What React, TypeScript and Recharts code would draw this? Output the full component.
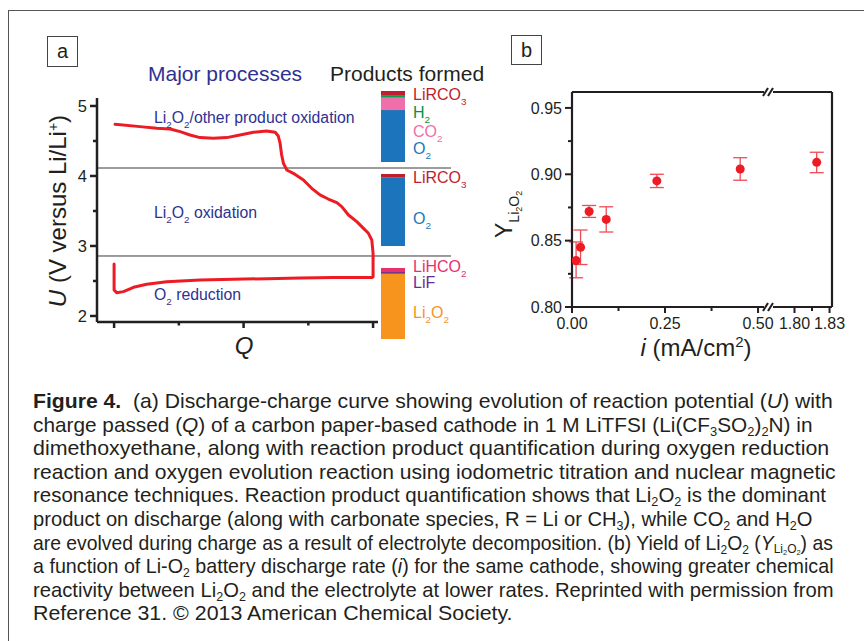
import React, { useLayoutEffect, useRef, useState } from 'react';
import {
  LineChart, Line, XAxis, YAxis, ReferenceLine,
  BarChart, Bar, ScatterChart, Scatter, ErrorBar,
} from 'recharts';

const FONT = '"Liberation Sans", Arial, Helvetica, sans-serif';
const INK = '#231f20';
const NAVY = '#2e3192';
const RED = '#ed1c24';

// ---- panel a: discharge then charge, Q scaled so that end of discharge = 1
const chargeQ = [
  0, 0, 0.01, 0.036, 0.075, 0.126, 0.203, 0.332, 0.461, 0.589, 0.718, 0.847, 0.995,
  1.0, 1.0, 0.995, 0.982, 0.963, 0.937, 0.905, 0.879, 0.86, 0.827, 0.795, 0.763,
  0.731, 0.692, 0.667, 0.654, 0.647, 0.641, 0.634, 0.622, 0.589, 0.538, 0.486,
  0.435, 0.383, 0.332, 0.293, 0.255, 0.216, 0.165, 0.1, 0.004,
];
const potential = [
  2.743, 2.371, 2.333, 2.348, 2.41, 2.453, 2.49, 2.514, 2.524, 2.533, 2.543, 2.548, 2.548,
  2.56, 2.895, 3.086, 3.181, 3.252, 3.348, 3.443, 3.562, 3.619, 3.671, 3.729, 3.824,
  3.943, 4.038, 4.086, 4.181, 4.3, 4.467, 4.571, 4.624, 4.643, 4.624, 4.586,
  4.548, 4.538, 4.548, 4.586, 4.633, 4.671, 4.681, 4.705, 4.738,
];
const potentialTicks = [2, 2.5, 3, 3.5, 4, 4.5, 5];
const potentialMajor = [2, 3, 4, 5];
const qTicks = [0, 0.25, 0.5, 0.75, 1];
const qMajor = [0, 0.5, 1];
const processBounds = [4.114, 2.857];
const Q_DOMAIN: [number, number] = [-0.066, 1.019];
const BOUND_END_Q = 1.301;

// product shares in %, listed bottom -> top
const highVoltProducts = ['O2', 'CO2', 'H2', 'LiRCO3'];
const highVoltShares = [73.1, 17.4, 3.8, 5.7];
const highVoltColors = ['#1c75bc', '#f06eaa', '#00a651', '#be1e2d'];
const midVoltProducts = ['O2', 'LiRCO3'];
const midVoltShares = [95.4, 4.6];
const midVoltColors = ['#1c75bc', '#be1e2d'];
const dischargeProducts = ['Li2O2', 'LiF', 'LiHCO2'];
const dischargeShares = [91.9, 2.4, 5.7];
const dischargeColors = ['#f7941d', '#662d91', '#e8306f'];

// ---- panel b
const currents = [0.011, 0.023, 0.046, 0.092, 0.228, 0.452, 1.819];
const yields = [0.835, 0.845, 0.872, 0.866, 0.895, 0.904, 0.909];
const yieldErrLow = [0.013, 0.013, 0.0045, 0.0095, 0.005, 0.0085, 0.0078];
const yieldErrHigh = [0.014, 0.013, 0.0045, 0.0095, 0.005, 0.0085, 0.0076];
const lowCurrentTicks = [0, 0.125, 0.25, 0.375, 0.5];
const lowCurrentMajor = [0, 0.25, 0.5];
const highCurrentTicks = [1.8, 1.815, 1.83];
const highCurrentMajor = [1.8, 1.83];
const yieldTicks = [0.8, 0.825, 0.85, 0.875, 0.9, 0.925, 0.95];
const yieldMajor = [0.8, 0.85, 0.9, 0.95];
const AXIS_BREAK = 1;

const curve = chargeQ.map((q, k) => ({ q, u: potential[k] }));
const yieldPoints = currents.map((i, k) => ({ i, y: yields[k], err: [yieldErrLow[k], yieldErrHigh[k]] }));
const lowPoints = yieldPoints.filter((p) => p.i < AXIS_BREAK);
const highPoints = yieldPoints.filter((p) => p.i >= AXIS_BREAK);

const isMajor = (list: number[], v: number) => list.some((m) => Math.abs(m - v) < 1e-9);

function makeTick(side: 'left' | 'bottom' | 'top', majors: number[], majorLen: number, minorLen: number,
  fmt?: (v: number) => string, fontSize = 16, width = 2) {
  return (props: any) => {
    const { x, y, payload } = props;
    const v = payload.value;
    const major = isMajor(majors, v);
    const len = major ? majorLen : minorLen;
    if (side === 'left') {
      return (
        <g>
          <line x1={x} y1={y} x2={x - len} y2={y} stroke={INK} strokeWidth={width} />
          {major && fmt && (
            <text x={x - len - 3} y={y} dy="0.36em" textAnchor="end" fontSize={fontSize} fill={INK}>{fmt(v)}</text>
          )}
        </g>
      );
    }
    return (
      <g>
        <line x1={x} y1={y} x2={x} y2={y + len} stroke={INK} strokeWidth={width} />
        {side === 'bottom' && major && fmt && (
          <text x={x} y={y + len + 4} dy="0.72em" textAnchor="middle" fontSize={fontSize} fill={INK}>{fmt(v)}</text>
        )}
      </g>
    );
  };
}

function chem(text: string, size: number) {
  const parts: React.ReactNode[] = [];
  const re = /([_^])(.)|([^_^]+)/g;
  let shift = 0;
  let m: RegExpExecArray | null;
  let k = 0;
  while ((m = re.exec(text))) {
    if (m[3]) {
      parts.push(<tspan key={k++} dy={-shift} fontSize={size}>{m[3]}</tspan>);
      shift = 0;
    } else {
      const off = m[1] === '_' ? 0.3 * size : -0.4 * size;
      parts.push(<tspan key={k++} dy={off - shift} fontSize={size * 0.62}>{m[2]}</tspan>);
      shift = off;
    }
  }
  return parts;
}

function ProductBar({ keys, shares, colors, left, top, height }: any) {
  const row: any = { name: 'bar' };
  keys.forEach((key: string, k: number) => { row[key] = shares[k]; });
  return (
    <div style={{ position: 'absolute', left, top }}>
      <BarChart width={24} height={height} data={[row]} margin={{ top: 0, right: 0, bottom: 0, left: 0 }}
        barCategoryGap={0} barGap={0}>
        <XAxis dataKey="name" hide />
        <YAxis hide domain={[0, 100]} allowDataOverflow />
        {keys.map((key: string, k: number) => (
          <Bar key={key} dataKey={key} stackId="p" fill={colors[k]} isAnimationActive={false} />
        ))}
      </BarChart>
    </div>
  );
}

const qTick = makeTick('bottom', qMajor, 6, 3.5, undefined, 16, 2.5);
const uTick = makeTick('left', potentialMajor, 7, 4, (v) => String(v), 16.5, 2.5);
const lowBottomTick = makeTick('bottom', lowCurrentMajor, 6, 4, (v) => v.toFixed(2));
const lowTopTick = makeTick('top', lowCurrentMajor, 5, 3);
const highBottomTick = makeTick('bottom', highCurrentMajor, 6, 4, (v) => v.toFixed(2));
const highTopTick = makeTick('top', highCurrentMajor, 5, 4);
const yieldTick = makeTick('left', yieldMajor, 7, 4, (v) => v.toFixed(2));

const axisLine = { stroke: INK, strokeWidth: 2.2 };
const sub: React.CSSProperties = { fontSize: '0.62em', verticalAlign: '-0.3em', lineHeight: 0 };
const S = ({ children }: any) => <span style={sub}>{children}</span>;

const CAPTION_LEFT = 33;
const captionLines = [
  <><b>Figure 4.</b>&nbsp; (a) Discharge-charge curve showing evolution of reaction potential (<i>U</i>) with</>,
  <>charge passed (<i>Q</i>) of a carbon paper-based cathode in 1 M LiTFSI (Li(CF<S>3</S>SO<S>2</S>)<S>2</S>N) in</>,
  <>dimethoxyethane, along with reaction product quantification during oxygen reduction</>,
  <>reaction and oxygen evolution reaction using iodometric titration and nuclear magnetic</>,
  <>resonance techniques. Reaction product quantification shows that Li<S>2</S>O<S>2</S> is the dominant</>,
  <>product on discharge (along with carbonate species, R = Li or CH<S>3</S>), while CO<S>2</S> and H<S>2</S>O</>,
  <>are evolved during charge as a result of electrolyte decomposition. (b) Yield of Li<S>2</S>O<S>2</S> (<i>Y</i><S>Li<S>2</S>O<S>2</S></S>) as</>,
  <>a function of Li-O<S>2</S> battery discharge rate (<i>i</i>) for the same cathode, showing greater chemical</>,
  <>reactivity between Li<S>2</S>O<S>2</S> and the electrolyte at lower rates. Reprinted with permission from</>,
  <>Reference 31. © 2013 American Chemical Society.</>,
];
// right edge of each caption line in the printed figure
const captionEnds = [833, 812, 829, 836, 826, 812, 833, 834, 834, 513];

function CaptionLine({ children, end }: any) {
  const ref = useRef<HTMLSpanElement>(null);
  const [scale, setScale] = useState(1);
  useLayoutEffect(() => {
    const w = ref.current ? ref.current.offsetWidth : 0;
    if (w > 0) setScale((end - CAPTION_LEFT) / w);
  }, [end]);
  return (
    <div style={{ height: 23.6 }}>
      <span ref={ref} style={{ display: 'inline-block', transform: `scaleX(${scale})`, transformOrigin: '0 0' }}>{children}</span>
    </div>
  );
}

export default function App() {
  return (
    <div style={{ position: 'absolute', left: 0, top: 0, width: 864, height: 641, background: '#fff', overflow: 'hidden', fontFamily: FONT, color: INK }}>
      <div style={{ position: 'absolute', left: 8, top: 10, width: 900, height: 700, borderTop: '1.5px solid #555', borderLeft: '1.5px solid #555' }} />

      {/* panel a */}
      <div style={{ position: 'absolute', left: 0, top: 0 }}>
        <LineChart width={470} height={360} data={curve} margin={{ top: 98, right: 92, bottom: 18, left: 57 }}>
          <XAxis dataKey="q" type="number" domain={Q_DOMAIN} allowDataOverflow ticks={qTicks} interval={0}
            height={20} tickSize={0} tickMargin={0} tickLine={false} axisLine={{ stroke: INK, strokeWidth: 2.5 }} tick={qTick} />
          <YAxis type="number" domain={[1.914, 5.114]} allowDataOverflow ticks={potentialTicks} interval={0}
            width={40} tickSize={0} tickMargin={0} tickLine={false} axisLine={{ stroke: INK, strokeWidth: 2.5 }} tick={uTick} />
          {processBounds.map((u) => (
            <ReferenceLine key={u} segment={[{ x: Q_DOMAIN[0], y: u }, { x: BOUND_END_Q, y: u }]}
              ifOverflow="visible" stroke="#3a3a3a" strokeWidth={1} />
          ))}
          <Line dataKey="u" type="linear" stroke={RED} strokeWidth={3} dot={false} isAnimationActive={false}
            strokeLinejoin="round" strokeLinecap="round" />
        </LineChart>
      </div>

      <ProductBar keys={highVoltProducts} shares={highVoltShares} colors={highVoltColors} left={381} top={91} height={71} />
      <ProductBar keys={midVoltProducts} shares={midVoltShares} colors={midVoltColors} left={381} top={174} height={72} />
      <ProductBar keys={dischargeProducts} shares={dischargeShares} colors={dischargeColors} left={381} top={268} height={71} />

      {/* panel b, broken current axis */}
      <div style={{ position: 'absolute', left: 490, top: 80 }}>
        <ScatterChart width={290} height={260} margin={{ top: 12, right: 16, bottom: 13, left: 42 }}>
          <XAxis dataKey="i" type="number" domain={[0, 0.516]} allowDataOverflow ticks={lowCurrentTicks} interval={0}
            height={20} tickSize={0} tickMargin={0} tickLine={false} axisLine={axisLine} tick={lowBottomTick} />
          <XAxis xAxisId="top" orientation="top" mirror type="number" domain={[0, 0.516]} allowDataOverflow
            ticks={lowCurrentTicks} interval={0} tickSize={0} tickMargin={0} tickLine={false} axisLine={axisLine} tick={lowTopTick} />
          <YAxis dataKey="y" type="number" domain={[0.8, 0.962]} allowDataOverflow ticks={yieldTicks} interval={0}
            width={40} tickSize={0} tickMargin={0} tickLine={false} axisLine={axisLine} tick={yieldTick} />
          <Scatter data={lowPoints} fill={RED} isAnimationActive={false}>
            <ErrorBar dataKey="err" direction="y" width={7} stroke="#f04c55" strokeWidth={1.3} />
          </Scatter>
        </ScatterChart>
      </div>
      <div style={{ position: 'absolute', left: 764, top: 80 }}>
        <ScatterChart width={84} height={260} margin={{ top: 12, right: 16, bottom: 13, left: 9 }}>
          <XAxis dataKey="i" type="number" domain={[1.7816, 1.8321]} allowDataOverflow ticks={highCurrentTicks} interval={0}
            height={20} tickSize={0} tickMargin={0} tickLine={false} axisLine={axisLine} tick={highBottomTick} />
          <XAxis xAxisId="top" orientation="top" mirror type="number" domain={[1.7816, 1.8321]} allowDataOverflow
            ticks={highCurrentTicks} interval={0} tickSize={0} tickMargin={0} tickLine={false} axisLine={axisLine} tick={highTopTick} />
          <YAxis dataKey="y" type="number" orientation="right" mirror domain={[0.8, 0.962]} allowDataOverflow
            tick={false} tickLine={false} axisLine={axisLine} />
          <Scatter data={highPoints} fill={RED} isAnimationActive={false}>
            <ErrorBar dataKey="err" direction="y" width={7} stroke="#f04c55" strokeWidth={1.3} />
          </Scatter>
        </ScatterChart>
      </div>

      <svg width={864} height={641} style={{ position: 'absolute', left: 0, top: 0, pointerEvents: 'none' }}>
        {/* panel letters */}
        <rect x={47.5} y={36.5} width={30} height={30} fill="none" stroke="#444" strokeWidth={1} />
        <text x={62.5} y={58} textAnchor="middle" fontSize={20} fill={INK}>a</text>
        <rect x={511.5} y={35.5} width={30} height={29} fill="none" stroke="#444" strokeWidth={1} />
        <text x={526.5} y={57} textAnchor="middle" fontSize={20} fill={INK}>b</text>

        {/* panel a headings and labels */}
        <text x={148} y={81} fontSize={21} fill={NAVY}>Major processes</text>
        <text x={330} y={81} fontSize={21} fill={INK}>Products formed</text>
        <text x={154} y={123} fill={NAVY}>{chem('Li_2O_2/other product oxidation', 15.8)}</text>
        <text x={154} y={218} fill={NAVY}>{chem('Li_2O_2 oxidation', 15.8)}</text>
        <text x={154} y={300} fill={NAVY}>{chem('O_2 reduction', 15.8)}</text>

        <text x={413} y={100} fill="#be1e2d">{chem('LiRCO_3', 16)}</text>
        <text x={413} y={118} fill="#009444">{chem('H_2', 16)}</text>
        <text x={413} y={137} fill="#f06eaa">{chem('CO_2', 16)}</text>
        <text x={413} y={154} fill="#1c75bc">{chem('O_2', 16)}</text>
        <text x={413} y={183} fill="#be1e2d">{chem('LiRCO_3', 16)}</text>
        <text x={413} y={224} fill="#1c75bc">{chem('O_2', 16)}</text>
        <text x={413} y={272} fill="#e8306f">{chem('LiHCO_2', 16)}</text>
        <text x={413} y={288} fill="#662d91">{chem('LiF', 16)}</text>
        <text x={413} y={318} fill="#f7941d">{chem('Li_2O_2', 16)}</text>

        <text transform="translate(66 211) rotate(-90)" textAnchor="middle" fontSize={24} fill={INK}>
          <tspan fontStyle="italic">U</tspan> (V versus Li/Li<tspan dy={-8} fontSize={14}>+</tspan><tspan dy={8}>)</tspan>
        </text>
        <text x={244} y={354} textAnchor="middle" fontSize={24} fontStyle="italic" fill={INK}>Q</text>

        {/* panel b labels */}
        <text transform="translate(512 238) rotate(-90)" fill={INK}>
          <tspan fontSize={23}>Y</tspan>
          <tspan dy={7} fontSize={14}>Li</tspan><tspan dy={3} fontSize={9}>2</tspan>
          <tspan dy={-3} fontSize={14}>O</tspan><tspan dy={3} fontSize={9}>2</tspan>
        </text>
        <text x={696} y={356} textAnchor="middle" fontSize={24} fill={INK}>
          <tspan fontStyle="italic">i</tspan> (mA/cm<tspan dy={-9} fontSize={15}>2</tspan><tspan dy={9}>)</tspan>
        </text>

        {/* axis break marks */}
        {[92, 307].map((y) => (
          <g key={y} stroke={INK} strokeWidth={2}>
            <line x1={763} y1={y + 4} x2={768} y2={y - 4} />
            <line x1={768} y1={y + 4} x2={773} y2={y - 4} />
          </g>
        ))}
      </svg>

      <div style={{ position: 'absolute', left: CAPTION_LEFT, top: 389, fontSize: 21, lineHeight: '23.6px', whiteSpace: 'nowrap', color: INK }}>
        {captionLines.map((line, k) => <CaptionLine key={k} end={captionEnds[k]}>{line}</CaptionLine>)}
      </div>
    </div>
  );
}
